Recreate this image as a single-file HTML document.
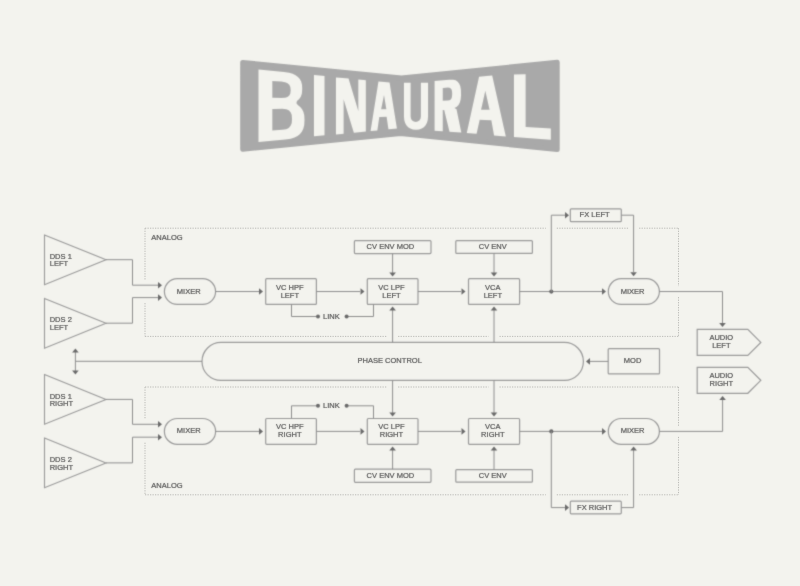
<!DOCTYPE html>
<html><head><meta charset="utf-8"><style>
html,body{margin:0;padding:0;background:#f3f3ee;width:800px;height:586px;overflow:hidden}
svg{display:block;font-family:"Liberation Sans",sans-serif}
</style></head><body>
<svg width="800" height="586" viewBox="0 0 800 586">
<defs><filter id="bl" x="-5%" y="-5%" width="110%" height="110%"><feConvolveMatrix order="3" kernelMatrix="0.025 0.1 0.025 0.1 0.5 0.1 0.025 0.1 0.025" preserveAlpha="false" edgeMode="none"/></filter>
<filter id="blt" x="-5%" y="-5%" width="110%" height="110%"><feConvolveMatrix order="3" kernelMatrix="0.01 0.06 0.01 0.06 0.72 0.06 0.01 0.06 0.01" preserveAlpha="false" edgeMode="none"/></filter></defs>
<g filter="url(#bl)">
<path d="M242.7,62.45 L401.5,78.1 L557.2,62.25 L557.2,149.54 L400.6,133.5 L242.7,149.25 Z" fill="#a9a9a9" stroke="#a9a9a9" stroke-width="5" stroke-linejoin="round"/>
<path fill-rule="evenodd" fill="#f3f3ee" d="M258.50,69.50 L283.80,71.97 L283.80,71.98 L289.03,72.72 L292.59,73.75 L295.51,75.15 L297.89,76.92 L299.76,79.05 L301.11,81.56 L301.93,84.53 L302.20,88.83 L302.20,88.83 L301.86,93.45 L300.86,96.55 L299.20,99.04 L296.90,101.01 L296.40,103.18 L297.78,105.09 L300.18,106.90 L302.05,109.17 L303.41,111.91 L304.23,115.23 L304.50,120.11 L304.50,120.11 L304.21,125.10 L303.36,128.54 L301.94,131.43 L299.98,133.88 L297.47,135.91 L294.41,137.50 L290.68,138.65 L285.18,139.45 L258.50,142.00ZM272.30,80.98 L281.50,81.62 L285.23,82.18 L287.61,83.25 L289.32,84.84 L290.35,86.97 L290.70,90.21 L290.35,93.42 L289.32,95.45 L287.61,96.88 L285.23,97.73 L281.50,97.95 L272.30,97.73ZM272.30,108.91 L282.42,108.83 L286.33,109.19 L288.84,110.33 L290.63,112.21 L291.71,114.85 L292.08,118.99 L291.71,123.15 L290.63,125.87 L288.84,127.88 L286.33,129.21 L282.42,129.87 L272.30,130.55Z M314.00,75.00 L324.50,76.00 L324.50,135.20 L314.00,136.20Z M336.00,77.40 L348.52,78.58 L358.35,111.19 L358.35,79.50 L365.80,80.20 L365.80,131.60 L353.88,132.76 L343.60,99.26 L343.60,133.76 L336.00,134.50Z M370.60,131.00 L378.49,81.52 L389.54,82.53 L396.90,128.60 L388.48,129.37 L386.64,116.77 L379.28,117.08 L377.31,130.39ZM384.01,94.92 L386.38,109.21 L381.12,109.28Z M404.00,82.70 L410.60,82.70 L410.60,116.61 L410.60,116.61 L410.99,118.68 L412.11,120.44 L413.79,121.62 L415.76,122.03 L417.73,121.62 L419.41,120.44 L420.53,118.68 L420.92,116.61 L420.92,116.61 L420.92,82.70 L428.00,82.70 L428.00,116.61 L428.00,116.61 L427.73,119.98 L426.91,122.79 L425.59,125.20 L423.81,127.16 L421.62,128.61 L419.06,129.50 L416.00,129.80 L412.94,129.50 L410.38,128.61 L408.19,127.16 L406.41,125.20 L405.09,122.79 L404.27,119.98 L404.00,116.61Z M434.60,81.10 L449.29,79.72 L449.29,79.72 L453.09,79.68 L455.63,80.36 L457.65,81.71 L459.20,83.70 L460.29,86.35 L460.90,89.77 L461.02,95.37 L460.65,99.45 L459.80,102.54 L458.48,104.99 L456.70,106.84 L454.43,108.09 L456.49,109.30 L461.30,132.40 L449.55,131.70 L444.21,109.88 L442.74,109.89 L442.74,131.29 L434.60,130.80ZM442.74,87.98 L447.95,87.61 L449.68,87.74 L450.79,88.39 L451.58,89.55 L452.06,91.22 L452.22,93.86 L452.06,96.52 L451.58,98.24 L450.79,99.48 L449.68,100.25 L447.95,100.55 L442.74,100.72Z M466.80,133.00 L479.09,76.87 L492.15,75.56 L505.80,136.40 L494.10,135.38 L491.37,120.27 L479.67,119.79 L476.55,133.85ZM485.32,90.84 L489.62,109.84 L481.04,109.78Z M514.00,74.50 L525.59,74.19 L525.59,127.11 L550.80,128.53 L550.80,139.80 L514.00,137.10Z"/>
<path d="M44.5,235 L106,259.7 L44.5,284.7 Z" fill="none" stroke="#9a9a9a" stroke-width="1.1" stroke-linejoin="miter"/>
<path d="M44.5,298.4 L106,323.2 L44.5,348.2 Z" fill="none" stroke="#9a9a9a" stroke-width="1.1" stroke-linejoin="miter"/>
<path d="M44.5,374.5 L106,399.4 L44.5,424.3 Z" fill="none" stroke="#9a9a9a" stroke-width="1.1" stroke-linejoin="miter"/>
<path d="M44.5,438 L106,462.9 L44.5,487.8 Z" fill="none" stroke="#9a9a9a" stroke-width="1.1" stroke-linejoin="miter"/>
<path d="M106,259.7 L132.5,259.7 L132.5,285.2 L160,285.2" fill="none" stroke="#8e8e8e" stroke-width="1"/>
<path d="M162.00,285.20 L158.00,281.90 L158.00,288.50Z" fill="#6a6a6a"/>
<path d="M106,323.2 L132.5,323.2 L132.5,297.6 L160,297.6" fill="none" stroke="#8e8e8e" stroke-width="1"/>
<path d="M162.00,297.60 L158.00,294.30 L158.00,300.90Z" fill="#6a6a6a"/>
<path d="M106,399.4 L132.5,399.4 L132.5,424.3 L160,424.3" fill="none" stroke="#8e8e8e" stroke-width="1"/>
<path d="M162.00,424.30 L158.00,421.00 L158.00,427.60Z" fill="#6a6a6a"/>
<path d="M106,462.9 L132.5,462.9 L132.5,437.2 L160,437.2" fill="none" stroke="#8e8e8e" stroke-width="1"/>
<path d="M162.00,437.20 L158.00,433.90 L158.00,440.50Z" fill="#6a6a6a"/>
<rect x="164.4" y="278.7" width="51.19999999999999" height="25.69999999999999" rx="12.849999999999994" fill="none" stroke="#9a9a9a" stroke-width="1.2"/>
<path d="M215.5,291.54999999999995 L259,291.54999999999995" fill="none" stroke="#8e8e8e" stroke-width="1"/>
<path d="M263.00,291.55 L259.00,288.25 L259.00,294.85Z" fill="#6a6a6a"/>
<rect x="265.7" y="278.7" width="50.69999999999999" height="25.69999999999999" rx="1" fill="none" stroke="#9a9a9a" stroke-width="1.2"/>
<path d="M316.4,291.54999999999995 L360,291.54999999999995" fill="none" stroke="#8e8e8e" stroke-width="1"/>
<path d="M364.50,291.55 L360.50,288.25 L360.50,294.85Z" fill="#6a6a6a"/>
<rect x="367.3" y="278.7" width="50.69999999999999" height="25.69999999999999" rx="1" fill="none" stroke="#9a9a9a" stroke-width="1.2"/>
<path d="M418,291.54999999999995 L461,291.54999999999995" fill="none" stroke="#8e8e8e" stroke-width="1"/>
<path d="M465.50,291.55 L461.50,288.25 L461.50,294.85Z" fill="#6a6a6a"/>
<rect x="468.5" y="278.7" width="51.10000000000002" height="25.69999999999999" rx="1" fill="none" stroke="#9a9a9a" stroke-width="1.2"/>
<path d="M519.6,291.54999999999995 L602,291.54999999999995" fill="none" stroke="#8e8e8e" stroke-width="1"/>
<path d="M606.00,291.55 L602.00,288.25 L602.00,294.85Z" fill="#6a6a6a"/>
<circle cx="551.3" cy="291.54999999999995" r="2.1" fill="#6a6a6a"/>
<rect x="608.3" y="278.7" width="51.10000000000002" height="25.69999999999999" rx="12.849999999999994" fill="none" stroke="#9a9a9a" stroke-width="1.2"/>
<rect x="354.4" y="240.6" width="76.60000000000002" height="13.0" rx="1" fill="none" stroke="#9a9a9a" stroke-width="1.2"/>
<path d="M392.6,253.6 L392.6,273" fill="none" stroke="#8e8e8e" stroke-width="1"/>
<path d="M392.60,276.50 L389.30,272.50 L395.90,272.50Z" fill="#6a6a6a"/>
<rect x="455.8" y="240.6" width="76.59999999999997" height="12.800000000000011" rx="1" fill="none" stroke="#9a9a9a" stroke-width="1.2"/>
<path d="M494,253.4 L494,273" fill="none" stroke="#8e8e8e" stroke-width="1"/>
<path d="M494.00,276.50 L490.70,272.50 L497.30,272.50Z" fill="#6a6a6a"/>
<path d="M291.5,304.4 L291.5,316.5 L318,316.5" fill="none" stroke="#8e8e8e" stroke-width="1"/>
<circle cx="318" cy="316.5" r="2" fill="#6a6a6a"/>
<path d="M346.6,316.5 L373.5,316.5 L373.5,304.4" fill="none" stroke="#8e8e8e" stroke-width="1"/>
<circle cx="346.6" cy="316.5" r="2" fill="#6a6a6a"/>
<path d="M551.3,291.54999999999995 L551.3,215.2 L565,215.2" fill="none" stroke="#8e8e8e" stroke-width="1"/>
<path d="M569.00,215.20 L565.00,211.90 L565.00,218.50Z" fill="#6a6a6a"/>
<rect x="570.3" y="208.8" width="51.0" height="12.899999999999977" rx="1" fill="none" stroke="#9a9a9a" stroke-width="1.2"/>
<path d="M621.3,215.2 L633.6,215.2 L633.6,272" fill="none" stroke="#8e8e8e" stroke-width="1"/>
<path d="M633.60,276.20 L630.30,272.20 L636.90,272.20Z" fill="#6a6a6a"/>
<path d="M659.4,291.54999999999995 L722.5,291.54999999999995 L722.5,323" fill="none" stroke="#8e8e8e" stroke-width="1"/>
<path d="M722.50,327.00 L719.20,323.00 L725.80,323.00Z" fill="#6a6a6a"/>
<rect x="164.4" y="418.5" width="51.19999999999999" height="25.80000000000001" rx="12.900000000000006" fill="none" stroke="#9a9a9a" stroke-width="1.2"/>
<path d="M215.5,431.4 L259,431.4" fill="none" stroke="#8e8e8e" stroke-width="1"/>
<path d="M263.00,431.40 L259.00,428.10 L259.00,434.70Z" fill="#6a6a6a"/>
<rect x="265.7" y="418.5" width="50.69999999999999" height="25.80000000000001" rx="1" fill="none" stroke="#9a9a9a" stroke-width="1.2"/>
<path d="M316.4,431.4 L360,431.4" fill="none" stroke="#8e8e8e" stroke-width="1"/>
<path d="M364.50,431.40 L360.50,428.10 L360.50,434.70Z" fill="#6a6a6a"/>
<rect x="367.3" y="418.5" width="50.69999999999999" height="25.80000000000001" rx="1" fill="none" stroke="#9a9a9a" stroke-width="1.2"/>
<path d="M418,431.4 L461,431.4" fill="none" stroke="#8e8e8e" stroke-width="1"/>
<path d="M465.50,431.40 L461.50,428.10 L461.50,434.70Z" fill="#6a6a6a"/>
<rect x="468.5" y="418.5" width="51.10000000000002" height="25.80000000000001" rx="1" fill="none" stroke="#9a9a9a" stroke-width="1.2"/>
<path d="M519.6,431.4 L602,431.4" fill="none" stroke="#8e8e8e" stroke-width="1"/>
<path d="M606.00,431.40 L602.00,428.10 L602.00,434.70Z" fill="#6a6a6a"/>
<circle cx="551.3" cy="431.4" r="2.1" fill="#6a6a6a"/>
<rect x="608.3" y="418.5" width="51.10000000000002" height="25.80000000000001" rx="12.900000000000006" fill="none" stroke="#9a9a9a" stroke-width="1.2"/>
<rect x="354.4" y="469.2" width="76.60000000000002" height="13.100000000000023" rx="1" fill="none" stroke="#9a9a9a" stroke-width="1.2"/>
<path d="M392.6,469.2 L392.6,450" fill="none" stroke="#8e8e8e" stroke-width="1"/>
<path d="M392.60,446.50 L389.30,450.50 L395.90,450.50Z" fill="#6a6a6a"/>
<rect x="455.8" y="469.6" width="76.59999999999997" height="12.599999999999966" rx="1" fill="none" stroke="#9a9a9a" stroke-width="1.2"/>
<path d="M494,469.6 L494,450" fill="none" stroke="#8e8e8e" stroke-width="1"/>
<path d="M494.00,446.50 L490.70,450.50 L497.30,450.50Z" fill="#6a6a6a"/>
<path d="M291.5,418.5 L291.5,405.8 L318,405.8" fill="none" stroke="#8e8e8e" stroke-width="1"/>
<circle cx="318" cy="405.8" r="2" fill="#6a6a6a"/>
<path d="M346.6,405.8 L373.5,405.8 L373.5,418.5" fill="none" stroke="#8e8e8e" stroke-width="1"/>
<circle cx="346.6" cy="405.8" r="2" fill="#6a6a6a"/>
<path d="M551.3,431.4 L551.3,507.6 L565,507.6" fill="none" stroke="#8e8e8e" stroke-width="1"/>
<path d="M569.00,507.60 L565.00,504.30 L565.00,510.90Z" fill="#6a6a6a"/>
<rect x="570.3" y="501.2" width="51.0" height="12.599999999999966" rx="1" fill="none" stroke="#9a9a9a" stroke-width="1.2"/>
<path d="M621.3,507.6 L633.6,507.6 L633.6,450" fill="none" stroke="#8e8e8e" stroke-width="1"/>
<path d="M633.60,446.50 L630.30,450.50 L636.90,450.50Z" fill="#6a6a6a"/>
<path d="M659.4,431.4 L722.6,431.4 L722.6,400" fill="none" stroke="#8e8e8e" stroke-width="1"/>
<path d="M722.60,396.00 L719.30,400.00 L725.90,400.00Z" fill="#6a6a6a"/>
<rect x="202" y="342.4" width="381.4" height="38.0" rx="19.0" fill="none" stroke="#9a9a9a" stroke-width="1.2"/>
<path d="M392.6,342.4 L392.6,310" fill="none" stroke="#8e8e8e" stroke-width="1"/>
<path d="M392.60,306.50 L389.30,310.50 L395.90,310.50Z" fill="#6a6a6a"/>
<path d="M494,342.4 L494,310" fill="none" stroke="#8e8e8e" stroke-width="1"/>
<path d="M494.00,306.50 L490.70,310.50 L497.30,310.50Z" fill="#6a6a6a"/>
<path d="M392.6,380.4 L392.6,413" fill="none" stroke="#8e8e8e" stroke-width="1"/>
<path d="M392.60,416.50 L389.30,412.50 L395.90,412.50Z" fill="#6a6a6a"/>
<path d="M494,380.4 L494,413" fill="none" stroke="#8e8e8e" stroke-width="1"/>
<path d="M494.00,416.50 L490.70,412.50 L497.30,412.50Z" fill="#6a6a6a"/>
<path d="M202,361.3 L75.4,361.3" fill="none" stroke="#8e8e8e" stroke-width="1"/>
<path d="M75.4,352 L75.4,371" fill="none" stroke="#8e8e8e" stroke-width="1"/>
<path d="M75.40,348.50 L72.10,352.50 L78.70,352.50Z" fill="#6a6a6a"/>
<path d="M75.40,374.40 L72.10,370.40 L78.70,370.40Z" fill="#6a6a6a"/>
<rect x="608.2" y="348.6" width="51.299999999999955" height="25.299999999999955" rx="1" fill="none" stroke="#9a9a9a" stroke-width="1.2"/>
<path d="M608.2,361.4 L590,361.4" fill="none" stroke="#8e8e8e" stroke-width="1"/>
<path d="M586.00,361.40 L590.00,358.10 L590.00,364.70Z" fill="#6a6a6a"/>
<path d="M697.2,329.4 L747.8,329.4 L760.8,342.4 L747.8,355.4 L697.2,355.4 Z" fill="none" stroke="#9a9a9a" stroke-width="1.2"/>
<path d="M697.2,367.4 L747.8,367.4 L760.8,380.35 L747.8,393.3 L697.2,393.3 Z" fill="none" stroke="#9a9a9a" stroke-width="1.2"/>
</g>
<g filter="url(#blt)">
<text transform="translate(151.30,240.01) scale(0.99,1)" text-anchor="start" font-size="7.6" font-weight="normal" fill="#585858" stroke="#585858" stroke-width="0.22">ANALOG</text>
<text transform="translate(151.30,487.51) scale(0.99,1)" text-anchor="start" font-size="7.6" font-weight="normal" fill="#585858" stroke="#585858" stroke-width="0.22">ANALOG</text>
<text transform="translate(49.70,258.82) scale(0.99,1)" text-anchor="start" font-size="7.6" font-weight="normal" fill="#585858" stroke="#585858" stroke-width="0.22">DDS 1</text>
<text transform="translate(49.70,266.32) scale(0.99,1)" text-anchor="start" font-size="7.6" font-weight="normal" fill="#585858" stroke="#585858" stroke-width="0.22">LEFT</text>
<text transform="translate(49.70,322.32) scale(0.99,1)" text-anchor="start" font-size="7.6" font-weight="normal" fill="#585858" stroke="#585858" stroke-width="0.22">DDS 2</text>
<text transform="translate(49.70,329.82) scale(0.99,1)" text-anchor="start" font-size="7.6" font-weight="normal" fill="#585858" stroke="#585858" stroke-width="0.22">LEFT</text>
<text transform="translate(49.70,398.52) scale(0.99,1)" text-anchor="start" font-size="7.6" font-weight="normal" fill="#585858" stroke="#585858" stroke-width="0.22">DDS 1</text>
<text transform="translate(49.70,406.02) scale(0.99,1)" text-anchor="start" font-size="7.6" font-weight="normal" fill="#585858" stroke="#585858" stroke-width="0.22">RIGHT</text>
<text transform="translate(49.70,462.02) scale(0.99,1)" text-anchor="start" font-size="7.6" font-weight="normal" fill="#585858" stroke="#585858" stroke-width="0.22">DDS 2</text>
<text transform="translate(49.70,469.52) scale(0.99,1)" text-anchor="start" font-size="7.6" font-weight="normal" fill="#585858" stroke="#585858" stroke-width="0.22">RIGHT</text>
<text transform="translate(188.70,293.56) scale(0.99,1)" text-anchor="middle" font-size="7.6" font-weight="normal" fill="#585858" stroke="#585858" stroke-width="0.22">MIXER</text>
<text transform="translate(289.80,289.61) scale(0.99,1)" text-anchor="middle" font-size="7.6" font-weight="normal" fill="#585858" stroke="#585858" stroke-width="0.22">VC HPF</text>
<text transform="translate(289.80,297.51) scale(0.99,1)" text-anchor="middle" font-size="7.6" font-weight="normal" fill="#585858" stroke="#585858" stroke-width="0.22">LEFT</text>
<text transform="translate(391.40,289.61) scale(0.99,1)" text-anchor="middle" font-size="7.6" font-weight="normal" fill="#585858" stroke="#585858" stroke-width="0.22">VC LPF</text>
<text transform="translate(391.40,297.51) scale(0.99,1)" text-anchor="middle" font-size="7.6" font-weight="normal" fill="#585858" stroke="#585858" stroke-width="0.22">LEFT</text>
<text transform="translate(492.80,289.61) scale(0.99,1)" text-anchor="middle" font-size="7.6" font-weight="normal" fill="#585858" stroke="#585858" stroke-width="0.22">VCA</text>
<text transform="translate(492.80,297.51) scale(0.99,1)" text-anchor="middle" font-size="7.6" font-weight="normal" fill="#585858" stroke="#585858" stroke-width="0.22">LEFT</text>
<text transform="translate(632.60,293.56) scale(0.99,1)" text-anchor="middle" font-size="7.6" font-weight="normal" fill="#585858" stroke="#585858" stroke-width="0.22">MIXER</text>
<text transform="translate(390.40,249.11) scale(0.99,1)" text-anchor="middle" font-size="7.6" font-weight="normal" fill="#585858" stroke="#585858" stroke-width="0.22">CV ENV MOD</text>
<text transform="translate(492.80,249.01) scale(0.99,1)" text-anchor="middle" font-size="7.6" font-weight="normal" fill="#585858" stroke="#585858" stroke-width="0.22">CV ENV</text>
<text transform="translate(331.30,318.51) scale(0.99,1)" text-anchor="middle" font-size="7.6" font-weight="normal" fill="#585858" stroke="#585858" stroke-width="0.22">LINK</text>
<text transform="translate(594.60,217.21) scale(0.99,1)" text-anchor="middle" font-size="7.6" font-weight="normal" fill="#585858" stroke="#585858" stroke-width="0.22">FX LEFT</text>
<text transform="translate(188.70,433.41) scale(0.99,1)" text-anchor="middle" font-size="7.6" font-weight="normal" fill="#585858" stroke="#585858" stroke-width="0.22">MIXER</text>
<text transform="translate(289.80,429.46) scale(0.99,1)" text-anchor="middle" font-size="7.6" font-weight="normal" fill="#585858" stroke="#585858" stroke-width="0.22">VC HPF</text>
<text transform="translate(289.80,437.36) scale(0.99,1)" text-anchor="middle" font-size="7.6" font-weight="normal" fill="#585858" stroke="#585858" stroke-width="0.22">RIGHT</text>
<text transform="translate(391.40,429.46) scale(0.99,1)" text-anchor="middle" font-size="7.6" font-weight="normal" fill="#585858" stroke="#585858" stroke-width="0.22">VC LPF</text>
<text transform="translate(391.40,437.36) scale(0.99,1)" text-anchor="middle" font-size="7.6" font-weight="normal" fill="#585858" stroke="#585858" stroke-width="0.22">RIGHT</text>
<text transform="translate(492.80,429.46) scale(0.99,1)" text-anchor="middle" font-size="7.6" font-weight="normal" fill="#585858" stroke="#585858" stroke-width="0.22">VCA</text>
<text transform="translate(492.80,437.36) scale(0.99,1)" text-anchor="middle" font-size="7.6" font-weight="normal" fill="#585858" stroke="#585858" stroke-width="0.22">RIGHT</text>
<text transform="translate(632.60,433.41) scale(0.99,1)" text-anchor="middle" font-size="7.6" font-weight="normal" fill="#585858" stroke="#585858" stroke-width="0.22">MIXER</text>
<text transform="translate(390.40,477.76) scale(0.99,1)" text-anchor="middle" font-size="7.6" font-weight="normal" fill="#585858" stroke="#585858" stroke-width="0.22">CV ENV MOD</text>
<text transform="translate(492.80,477.91) scale(0.99,1)" text-anchor="middle" font-size="7.6" font-weight="normal" fill="#585858" stroke="#585858" stroke-width="0.22">CV ENV</text>
<text transform="translate(331.30,407.81) scale(0.99,1)" text-anchor="middle" font-size="7.6" font-weight="normal" fill="#585858" stroke="#585858" stroke-width="0.22">LINK</text>
<text transform="translate(594.60,509.51) scale(0.99,1)" text-anchor="middle" font-size="7.6" font-weight="normal" fill="#585858" stroke="#585858" stroke-width="0.22">FX RIGHT</text>
<text transform="translate(389.70,363.41) scale(0.99,1)" text-anchor="middle" font-size="7.6" font-weight="normal" fill="#585858" stroke="#585858" stroke-width="0.22">PHASE CONTROL</text>
<text transform="translate(632.60,363.31) scale(0.99,1)" text-anchor="middle" font-size="7.6" font-weight="normal" fill="#585858" stroke="#585858" stroke-width="0.22">MOD</text>
<text transform="translate(721.30,340.46) scale(0.99,1)" text-anchor="middle" font-size="7.6" font-weight="normal" fill="#585858" stroke="#585858" stroke-width="0.22">AUDIO</text>
<text transform="translate(721.30,348.36) scale(0.99,1)" text-anchor="middle" font-size="7.6" font-weight="normal" fill="#585858" stroke="#585858" stroke-width="0.22">LEFT</text>
<text transform="translate(721.30,378.41) scale(0.99,1)" text-anchor="middle" font-size="7.6" font-weight="normal" fill="#585858" stroke="#585858" stroke-width="0.22">AUDIO</text>
<text transform="translate(721.30,386.31) scale(0.99,1)" text-anchor="middle" font-size="7.6" font-weight="normal" fill="#585858" stroke="#585858" stroke-width="0.22">RIGHT</text>
</g>
<g>
<path d="M145,228.2 L545.8,228.2" fill="none" stroke="#bbbbb7" stroke-width="1" stroke-dasharray="1.25 1.25"/>
<path d="M556.8,228.2 L628.1,228.2" fill="none" stroke="#bbbbb7" stroke-width="1" stroke-dasharray="1.25 1.25"/>
<path d="M639.1,228.2 L678.5,228.2" fill="none" stroke="#bbbbb7" stroke-width="1" stroke-dasharray="1.25 1.25"/>
<path d="M145,336.4 L387.1,336.4" fill="none" stroke="#bbbbb7" stroke-width="1" stroke-dasharray="1.25 1.25"/>
<path d="M398.1,336.4 L488.5,336.4" fill="none" stroke="#bbbbb7" stroke-width="1" stroke-dasharray="1.25 1.25"/>
<path d="M499.5,336.4 L678.5,336.4" fill="none" stroke="#bbbbb7" stroke-width="1" stroke-dasharray="1.25 1.25"/>
<path d="M145,228.2 L145,279.7" fill="none" stroke="#bbbbb7" stroke-width="1" stroke-dasharray="1.25 1.25"/>
<path d="M145,303.1 L145,336.4" fill="none" stroke="#bbbbb7" stroke-width="1" stroke-dasharray="1.25 1.25"/>
<path d="M678.5,228.2 L678.5,286.1" fill="none" stroke="#bbbbb7" stroke-width="1" stroke-dasharray="1.25 1.25"/>
<path d="M678.5,297.1 L678.5,336.4" fill="none" stroke="#bbbbb7" stroke-width="1" stroke-dasharray="1.25 1.25"/>
<path d="M145,387 L387.1,387" fill="none" stroke="#bbbbb7" stroke-width="1" stroke-dasharray="1.25 1.25"/>
<path d="M398.1,387 L488.5,387" fill="none" stroke="#bbbbb7" stroke-width="1" stroke-dasharray="1.25 1.25"/>
<path d="M499.5,387 L678.5,387" fill="none" stroke="#bbbbb7" stroke-width="1" stroke-dasharray="1.25 1.25"/>
<path d="M145,494.8 L545.8,494.8" fill="none" stroke="#bbbbb7" stroke-width="1" stroke-dasharray="1.25 1.25"/>
<path d="M556.8,494.8 L628.1,494.8" fill="none" stroke="#bbbbb7" stroke-width="1" stroke-dasharray="1.25 1.25"/>
<path d="M639.1,494.8 L678.5,494.8" fill="none" stroke="#bbbbb7" stroke-width="1" stroke-dasharray="1.25 1.25"/>
<path d="M145,387 L145,418.8" fill="none" stroke="#bbbbb7" stroke-width="1" stroke-dasharray="1.25 1.25"/>
<path d="M145,442.7 L145,494.8" fill="none" stroke="#bbbbb7" stroke-width="1" stroke-dasharray="1.25 1.25"/>
<path d="M678.5,387 L678.5,425.9" fill="none" stroke="#bbbbb7" stroke-width="1" stroke-dasharray="1.25 1.25"/>
<path d="M678.5,436.9 L678.5,494.8" fill="none" stroke="#bbbbb7" stroke-width="1" stroke-dasharray="1.25 1.25"/>
</g>
</svg>
</body></html>
